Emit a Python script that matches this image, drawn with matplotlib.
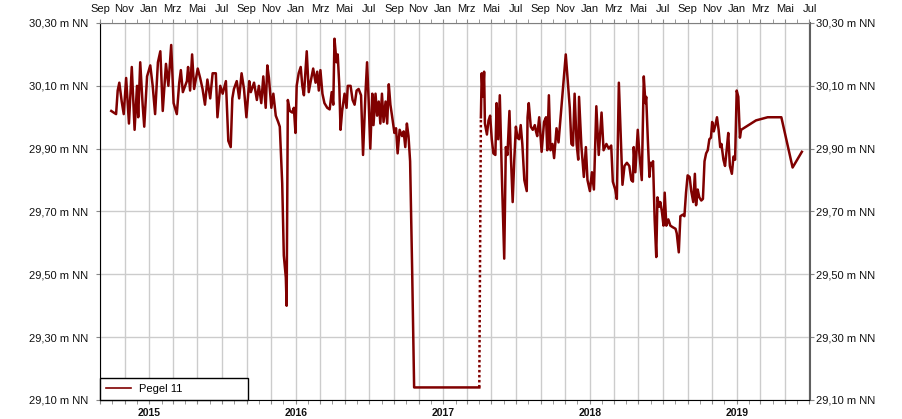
import matplotlib
matplotlib.use('Agg')
import matplotlib.pyplot as plt
import matplotlib.dates as mdates
from matplotlib.ticker import FuncFormatter
import numpy as np

plt.rcParams['font.family'] = ['Liberation Sans', 'DejaVu Sans']

# measurement days, counted from 1 Sep 2014, and water level (m NN)
start = np.datetime64('2014-09-01')

days_a = [28, 40, 44, 48, 54, 59, 65, 72, 79, 86,
          92, 95, 100, 106, 110, 117, 125, 131, 137, 144,
          150, 156, 164, 170, 177, 183, 191, 197, 201, 206,
          216, 219, 224, 229, 234, 243, 249, 255, 261, 267,
          274, 280, 288, 292, 299, 305, 313, 319, 325, 329,
          333, 340, 346, 352, 358, 364, 371, 375, 383, 390,
          395, 401, 406, 412, 416, 420, 426, 431, 437, 443,
          447, 453, 457, 462, 464, 467, 472, 478, 482, 486,
          489, 494, 499, 503, 507, 514, 519, 524, 530, 536,
          540, 544, 548, 553, 558, 565, 571, 576, 580, 583,
          588, 591, 595, 598, 602, 608, 613, 616, 623, 628,
          633, 638, 643, 649, 654, 660, 664, 668, 672, 677,
          680, 685, 689, 693, 697, 701, 705, 710, 714, 718,
          722, 726, 732, 736, 740, 745, 751, 755, 759, 763,
          767, 771, 776, 781, 943]
level_a = [30.02, 30.01, 30.085, 30.11, 30.05, 30.01, 30.125, 29.98, 30.16, 29.96,
           30.10, 30.00, 30.175, 30.04, 29.97, 30.13, 30.165, 30.10, 30.01, 30.175,
           30.21, 30.02, 30.17, 30.10, 30.23, 30.045, 30.01, 30.11, 30.15, 30.08,
           30.115, 30.16, 30.085, 30.20, 30.09, 30.155, 30.125, 30.09, 30.04, 30.12,
           30.06, 30.14, 30.14, 30.00, 30.10, 30.075, 30.115, 29.925, 29.905, 30.06,
           30.09, 30.115, 30.06, 30.14, 30.09, 30.00, 30.115, 30.08, 30.11, 30.055,
           30.10, 30.045, 30.13, 30.03, 30.165, 30.125, 30.03, 30.075, 30.005, 29.985,
           29.97, 29.79, 29.56, 29.49, 29.40, 30.055, 30.02, 30.015, 30.03, 29.95,
           30.10, 30.14, 30.16, 30.10, 30.07, 30.21, 30.08, 30.115, 30.155, 30.11,
           30.145, 30.085, 30.15, 30.075, 30.045, 30.03, 30.025, 30.08, 30.04, 30.25,
           30.175, 30.20, 30.10, 29.96, 30.02, 30.075, 30.03, 30.10, 30.10, 30.055,
           30.04, 30.085, 30.09, 30.07, 29.88, 30.075, 30.175, 30.05, 29.90, 30.075,
           29.975, 30.075, 30.005, 30.05, 29.98, 30.075, 29.985, 30.05, 29.98, 30.105,
           30.04, 30.005, 29.95, 29.965, 29.885, 29.96, 29.94, 29.955, 29.905, 29.98,
           29.94, 29.86, 29.52, 29.14, 29.14]

days_b = [947, 949, 952, 955, 957, 962, 966, 970, 974, 978,
          983, 986, 990, 994, 999, 1005, 1009, 1013, 1018, 1021,
          1026, 1030, 1034, 1038, 1042, 1046, 1050, 1055, 1061, 1063,
          1066, 1071, 1076, 1081, 1084, 1087, 1092, 1098, 1104, 1109,
          1112, 1116, 1120, 1125, 1129, 1135, 1140, 1158, 1168, 1172,
          1176, 1180, 1185, 1189, 1191, 1197, 1203, 1208, 1212, 1218,
          1223, 1228, 1234, 1240, 1247, 1252, 1259, 1265, 1271, 1275,
          1281, 1285, 1290, 1299, 1304, 1310, 1316, 1321, 1325, 1327,
          1331, 1337, 1341, 1347, 1352, 1356, 1358, 1362, 1366, 1369,
          1372, 1375, 1379, 1383, 1386, 1390, 1393, 1397, 1401, 1404,
          1408, 1413, 1418, 1424, 1431, 1434, 1439, 1443, 1449, 1453,
          1457, 1461, 1466, 1470, 1475, 1479, 1482, 1486, 1490, 1495,
          1499, 1503, 1507, 1511, 1515, 1519, 1522, 1526, 1530, 1534,
          1538, 1542, 1545, 1550, 1554, 1558, 1562, 1566, 1571, 1575,
          1579, 1583, 1587, 1591, 1594, 1631, 1660, 1694, 1722, 1745]
level_b = [30.00, 30.14, 30.065, 30.145, 29.98, 29.945, 29.99, 30.005, 29.93, 29.885,
           29.88, 30.045, 29.93, 30.07, 29.82, 29.55, 29.905, 29.88, 30.02, 29.895,
           29.73, 29.865, 29.97, 29.935, 29.93, 29.975, 29.915, 29.80, 29.765, 30.00,
           30.045, 29.97, 29.96, 29.975, 29.955, 29.94, 30.00, 29.89, 29.985, 30.00,
           29.895, 30.07, 29.895, 29.915, 29.87, 29.965, 29.92, 30.20, 30.03, 29.915,
           29.91, 30.075, 29.915, 29.865, 30.065, 29.905, 29.81, 29.905, 29.80, 29.765,
           29.825, 29.77, 30.035, 29.88, 30.015, 29.895, 29.915, 29.90, 29.91, 29.795,
           29.77, 29.74, 30.11, 29.785, 29.845, 29.855, 29.845, 29.80, 29.795, 29.905,
           29.825, 29.96, 29.885, 29.80, 30.13, 30.045, 30.065, 29.93, 29.81, 29.855,
           29.845, 29.86, 29.675, 29.555, 29.745, 29.715, 29.73, 29.70, 29.655, 29.76,
           29.655, 29.675, 29.655, 29.65, 29.645, 29.63, 29.57, 29.685, 29.69, 29.685,
           29.76, 29.815, 29.81, 29.765, 29.73, 29.82, 29.72, 29.77, 29.745, 29.735,
           29.74, 29.86, 29.885, 29.895, 29.93, 29.935, 29.985, 29.955, 29.975, 30.00,
           29.96, 29.905, 29.915, 29.865, 29.845, 29.895, 29.95, 29.845, 29.82, 29.875,
           29.865, 30.085, 30.065, 29.935, 29.96, 29.99, 30.00, 30.00, 29.84, 29.89]

month_names = {1: 'Jan', 3: 'Mrz', 5: 'Mai', 7: 'Jul', 9: 'Sep', 11: 'Nov'}
years = [2015, 2016, 2017, 2018, 2019]
y_ticks = [29.10, 29.30, 29.50, 29.70, 29.90, 30.10, 30.30]
series_name = 'Pegel 11'

dates_a = start + np.array(days_a).astype('timedelta64[D]')
dates_b = start + np.array(days_b).astype('timedelta64[D]')

red = '#800000'
fig = plt.figure(figsize=(9.03, 4.19), dpi=100)
ax = fig.add_axes([100 / 903, 19 / 419, 709.5 / 903, 377 / 419])

ax.plot(dates_a, level_a, color=red, lw=1.8, label=series_name)
# gap in the record: dotted connection
ax.plot([dates_a[-1], dates_b[0]], [level_a[-1], level_b[0]], color=red, lw=1.8, ls=(0, (1, 1)))
ax.plot(dates_b, level_b, color=red, lw=1.8)

ax.set_xlim(np.datetime64('2014-09-01'), np.datetime64('2019-07-01'))
ax.set_ylim(29.10, 30.30)

ax.xaxis.set_major_locator(mdates.MonthLocator(bymonth=[1, 3, 5, 7, 9, 11]))
ax.xaxis.set_minor_locator(mdates.MonthLocator())
ax.xaxis.set_major_formatter(FuncFormatter(lambda x, p: month_names.get(mdates.num2date(x + 0.01).month, '')))
ax.tick_params(axis='x', which='both', top=True, bottom=True, labeltop=True, labelbottom=False,
               length=3, color='#888888', labelsize=8, pad=3.5, labelcolor='#111111')

ylab = FuncFormatter(lambda v, p: f'{v:.2f}'.replace('.', ',') + ' m NN')
ax.set_yticks(y_ticks)
ax.yaxis.set_major_formatter(ylab)
ax.tick_params(axis='y', left=True, right=False, length=3, labelsize=8, pad=5.5,
               color='#888888', labelcolor='#111111')
sec = ax.secondary_yaxis('right')
sec.set_yticks(y_ticks)
sec.yaxis.set_major_formatter(ylab)
sec.tick_params(length=3, labelsize=8, pad=2, color='#888888', labelcolor='#111111')
sec.spines['right'].set_color('#606060')
sec.spines['right'].set_linewidth(1.5)

ax.grid(axis='x', which='major', color='#cccccc', lw=1)
ax.grid(axis='y', color='#cccccc', lw=1)
ax.set_axisbelow(True)

ax.spines['left'].set_color('black')
ax.spines['bottom'].set_color('black')
ax.spines['top'].set_color('#808080')
ax.spines['right'].set_visible(False)

for yr in years:
    ax.annotate(str(yr), xy=(np.datetime64(f'{yr}-01-01'), 0), xycoords=('data', 'axes fraction'),
                xytext=(0, -6), textcoords='offset points', ha='center', va='top',
                fontsize=7.5, fontweight='bold', color='#111111')

leg = ax.legend(loc='lower left', bbox_to_anchor=(0, 0, 148 / 709.5, 0.06), mode='expand',
                borderaxespad=0, fancybox=False, framealpha=1, edgecolor='black',
                fontsize=8, handlelength=2.2, handletextpad=0.8, borderpad=0.55)
leg.get_frame().set_linewidth(1.0)
for h in leg.legend_handles:
    h.set_linewidth(1.2)

fig.savefig('out.png', dpi=100)
